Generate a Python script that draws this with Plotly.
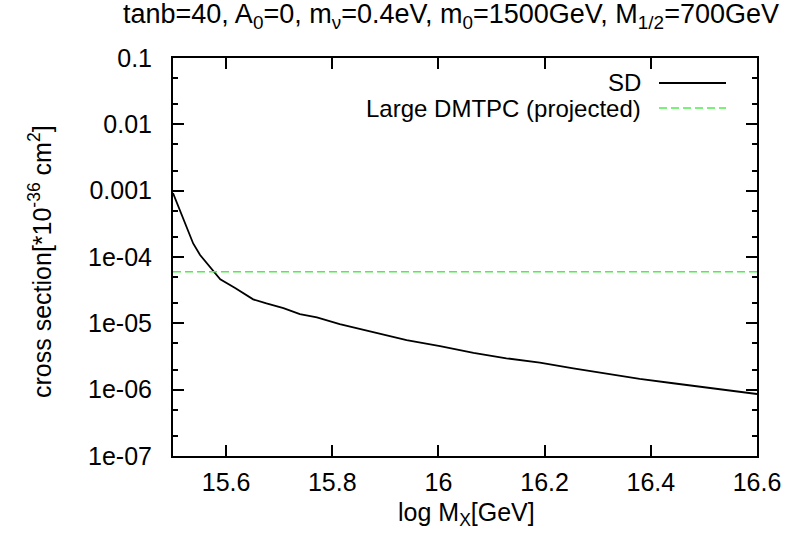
import plotly.graph_objects as go

# SD cross section vs. log M_X
log_mx = [15.5, 15.513, 15.526, 15.538, 15.551, 15.576, 15.589, 15.617, 15.651,
          15.676, 15.708, 15.739, 15.771, 15.814, 15.877, 15.94, 16.003, 16.066,
          16.128, 16.191, 16.254, 16.317, 16.379, 16.442, 16.505, 16.58, 16.6]
sd_xsec = [9.2e-4, 5.1e-4, 2.9e-4, 1.6e-4, 1.07e-4, 6.2e-5, 4.6e-5, 3.4e-5, 2.3e-5,
           2.0e-5, 1.7e-5, 1.38e-5, 1.23e-5, 9.7e-6, 7.3e-6, 5.6e-6, 4.55e-6, 3.6e-6,
           2.97e-6, 2.55e-6, 2.1e-6, 1.73e-6, 1.45e-6, 1.25e-6, 1.07e-6, 8.9e-7, 8.6e-7]

# Projected Large DMTPC sensitivity
dmtpc_x = [15.5, 16.6]
dmtpc_y = [6e-5, 6e-5]

x_ticks = [15.6, 15.8, 16.0, 16.2, 16.4, 16.6]
x_ticktext = ["15.6", "15.8", "16", "16.2", "16.4", "16.6"]
y_ticks = [1e-1, 1e-2, 1e-3, 1e-4, 1e-5, 1e-6, 1e-7]
y_ticktext = ["0.1", "0.01", "0.001", "1e-04", "1e-05", "1e-06", "1e-07"]
y_minor = [m * 10.0 ** e for e in range(-7, -1) for m in (2, 5)]

series_names = ["SD", "Large DMTPC (projected)"]
sd_color = "black"
dmtpc_color = "#4fee4f"

FONT = "Liberation Sans, Arial, Helvetica, sans-serif"
FS = 25

fig = go.Figure()
fig.add_trace(go.Scatter(x=log_mx, y=sd_xsec, mode="lines",
                         line=dict(color=sd_color, width=1.8),
                         name=series_names[0], showlegend=False))
fig.add_trace(go.Scatter(x=dmtpc_x, y=dmtpc_y, mode="lines",
                         line=dict(color=dmtpc_color, width=1.5, dash="8px,4px"),
                         name=series_names[1], showlegend=False))

axis_common = dict(showline=True, linecolor="black", linewidth=2, mirror="ticks",
                   ticks="inside", ticklen=11, tickwidth=1.5, tickcolor="black",
                   showgrid=False, zeroline=False,
                   tickfont=dict(family=FONT, size=FS, color="black"))

fig.update_xaxes(range=[15.5, 16.6], tickvals=x_ticks, ticktext=x_ticktext,
                 ticklabelstandoff=3, **axis_common)
fig.update_yaxes(type="log", range=[-7, -1], tickvals=y_ticks, ticktext=y_ticktext,
                 ticklabelstandoff=14,
                 minor=dict(tickvals=y_minor, ticks="inside", ticklen=5,
                            tickwidth=1.5, tickcolor="black", showgrid=False),
                 **axis_common)

L, R, T, B = 173, 757, 58, 456
W, H = 792, 535


def px(xp):
    return (xp - L) / (R - L)


def py(yp):
    return (B - yp) / (B - T)


txt = dict(family=FONT, size=FS, color="black")
annotations = [
    dict(text="tanb=40, A<sub>0</sub>=0, m<sub>ν</sub>=0.4eV, m<sub>0</sub>=1500GeV, "
              "M<sub>1/2</sub>=700GeV",
         x=px(781), y=py(16), xanchor="right", yanchor="middle",
         font=dict(family=FONT, size=27, color="black")),
    dict(text="log M<sub>X</sub>[GeV]", x=px(466), y=py(514),
         xanchor="center", yanchor="middle"),
    dict(text="cross section[*10<sup>-36</sup> cm<sup>2</sup>]", x=px(40), y=py(262),
         xanchor="center", yanchor="middle", textangle=-90),
    dict(text=series_names[0], x=px(643), y=py(82), xanchor="right", yanchor="middle",
         font=dict(family=FONT, size=24, color="black")),
    dict(text=series_names[1], x=px(643), y=py(108), xanchor="right", yanchor="middle",
         font=dict(family=FONT, size=24, color="black")),
]
for a in annotations:
    a.update(xref="paper", yref="paper", showarrow=False)
    a.setdefault("font", txt)

# Legend key samples
shapes = [
    dict(type="line", xref="paper", yref="paper", x0=px(659), x1=px(726),
         y0=py(83), y1=py(83), line=dict(color=sd_color, width=1.8)),
    dict(type="line", xref="paper", yref="paper", x0=px(659), x1=px(726),
         y0=py(108), y1=py(108), line=dict(color=dmtpc_color, width=1.5, dash="8px,4px")),
]

fig.update_layout(width=W, height=H, margin=dict(l=L, r=W - R, t=T, b=H - B),
                  paper_bgcolor="white", plot_bgcolor="white",
                  annotations=annotations, shapes=shapes, showlegend=False)

fig.write_html("out.html")
